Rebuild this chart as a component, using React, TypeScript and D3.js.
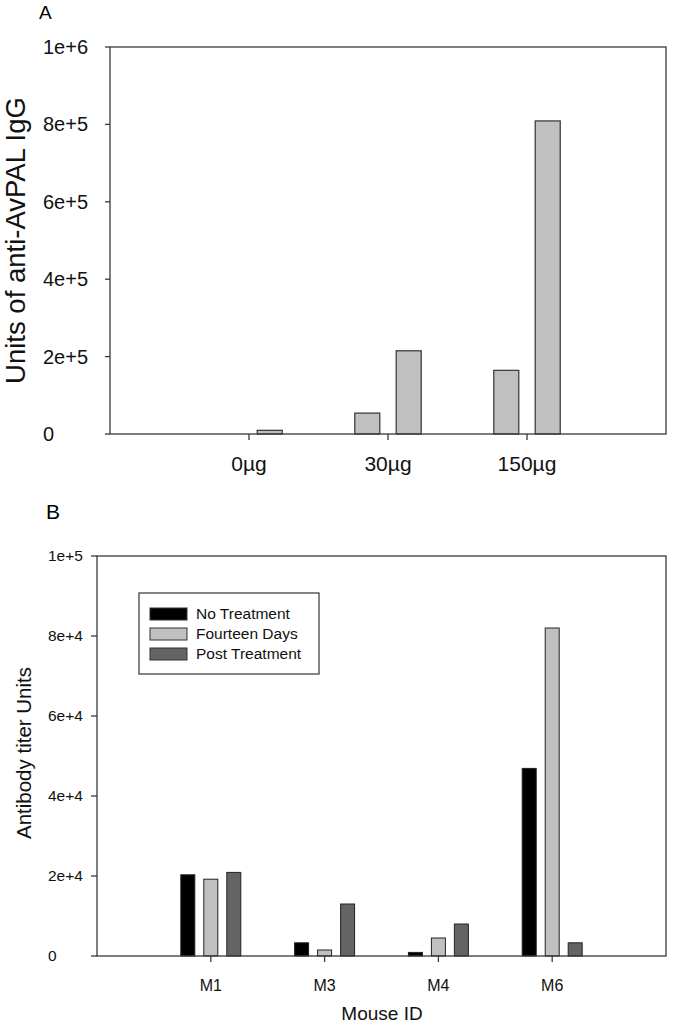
import { useRef, useEffect } from 'react';
import * as d3 from 'd3';

// Panel A: dose groups, two bars each
const doseLabels = ['0µg', '30µg', '150µg'];
const doseFirst = [0, 54000, 164500];
const doseSecond = [9500, 215000, 809000];
const doseTicks = [0, 200000, 400000, 600000, 800000, 1000000];
const doseTickLabels = ['0', '2e+5', '4e+5', '6e+5', '8e+5', '1e+6'];

// Panel B: mice, three time points
const mouseIds = ['M1', 'M3', 'M4', 'M6'];
const seriesNames = ['No Treatment', 'Fourteen Days', 'Post Treatment'];
const noTreatment = [20300, 3300, 900, 46900];
const fourteenDays = [19200, 1500, 4500, 82000];
const postTreatment = [20900, 13000, 8000, 3300];
const titerTicks = [0, 20000, 40000, 60000, 80000, 100000];
const titerTickLabels = ['0', '2e+4', '4e+4', '6e+4', '8e+4', '1e+5'];

const FONT = '"Liberation Sans", Arial, sans-serif';
const AXIS = '#3a3a3a';
const LIGHT = '#c0c0c0';
const DARK = '#646464';

export default function App() {
    const svgRef = useRef<SVGSVGElement>(null);

    useEffect(() => {
        if (!svgRef.current) return;
        const svg = d3.select(svgRef.current);
        svg.selectAll('*').remove();

        // ---------- Panel A ----------
        const xA = d3.scaleLinear().domain([0, doseLabels.length + 1]).range([110, 666]);
        const yA = d3.scaleLinear().domain([0, 1000000]).range([434, 47]);
        const gA = svg.append('g');

        svg.append('text')
            .attr('x', 39).attr('y', 19)
            .attr('font-family', FONT).attr('font-size', 19)
            .text('A');

        const barWA = 0.18;
        [doseFirst, doseSecond].forEach((vals, s) => {
            const off = s === 0 ? -0.149 : 0.149;
            gA.selectAll(`rect.a${s}`)
                .data(vals)
                .enter()
                .append('rect')
                .attr('x', (_, i) => xA(i + 1 + off - barWA / 2))
                .attr('y', d => yA(d))
                .attr('width', xA(barWA) - xA(0))
                .attr('height', d => yA(0) - yA(d))
                .attr('fill', LIGHT)
                .attr('stroke', '#333')
                .attr('stroke-width', 1.2);
        });

        gA.append('rect')
            .attr('x', xA(0)).attr('y', yA(1000000))
            .attr('width', xA(4) - xA(0)).attr('height', yA(0) - yA(1000000))
            .attr('fill', 'none').attr('stroke', AXIS).attr('stroke-width', 1.3);

        doseTicks.forEach((t, i) => {
            gA.append('line')
                .attr('x1', xA(0) - 5).attr('x2', xA(0))
                .attr('y1', yA(t)).attr('y2', yA(t))
                .attr('stroke', AXIS).attr('stroke-width', 1.3);
            gA.append('text')
                .attr('x', 43).attr('y', yA(t)).attr('dy', '0.35em')
                .attr('font-family', FONT).attr('font-size', 20)
                .attr('fill', '#111')
                .text(doseTickLabels[i]);
        });

        doseLabels.forEach((lab, i) => {
            gA.append('line')
                .attr('x1', xA(i + 1)).attr('x2', xA(i + 1))
                .attr('y1', yA(0)).attr('y2', yA(0) + 6)
                .attr('stroke', AXIS).attr('stroke-width', 1.3);
            gA.append('text')
                .attr('x', xA(i + 1)).attr('y', 471)
                .attr('text-anchor', 'middle')
                .attr('font-family', FONT).attr('font-size', 21)
                .attr('fill', '#111')
                .text(lab);
        });

        svg.append('text')
            .attr('transform', `translate(25,${(yA(0) + yA(1000000)) / 2}) rotate(-90)`)
            .attr('text-anchor', 'middle')
            .attr('font-family', FONT).attr('font-size', 27.5)
            .attr('fill', '#111')
            .text('Units of anti-AvPAL IgG');

        // ---------- Panel B ----------
        const xB = d3.scaleLinear().domain([0, mouseIds.length + 1]).range([97, 666]);
        const yB = d3.scaleLinear().domain([0, 100000]).range([956, 556]);
        const gB = svg.append('g');
        const series = [noTreatment, fourteenDays, postTreatment];
        const fills = ['#000000', LIGHT, DARK];

        svg.append('text')
            .attr('x', 46).attr('y', 519)
            .attr('font-family', FONT).attr('font-size', 21)
            .text('B');

        const barWB = 0.123;
        series.forEach((vals, s) => {
            const off = (s - 1) * 0.202;
            gB.selectAll(`rect.b${s}`)
                .data(vals)
                .enter()
                .append('rect')
                .attr('x', (_, i) => xB(i + 1 + off - barWB / 2))
                .attr('y', d => yB(d))
                .attr('width', xB(barWB) - xB(0))
                .attr('height', d => yB(0) - yB(d))
                .attr('fill', fills[s])
                .attr('stroke', '#222')
                .attr('stroke-width', 1);
        });

        gB.append('rect')
            .attr('x', xB(0)).attr('y', yB(100000))
            .attr('width', xB(5) - xB(0)).attr('height', yB(0) - yB(100000))
            .attr('fill', 'none').attr('stroke', AXIS).attr('stroke-width', 1.3);

        titerTicks.forEach((t, i) => {
            gB.append('line')
                .attr('x1', xB(0) - 6).attr('x2', xB(0))
                .attr('y1', yB(t)).attr('y2', yB(t))
                .attr('stroke', AXIS).attr('stroke-width', 1.3);
            gB.append('text')
                .attr('x', 48).attr('y', yB(t)).attr('dy', '0.35em')
                .attr('font-family', FONT).attr('font-size', 15.5)
                .attr('fill', '#111')
                .text(titerTickLabels[i]);
        });

        mouseIds.forEach((lab, i) => {
            gB.append('line')
                .attr('x1', xB(i + 1)).attr('x2', xB(i + 1))
                .attr('y1', yB(0)).attr('y2', yB(0) + 6)
                .attr('stroke', AXIS).attr('stroke-width', 1.3);
            gB.append('text')
                .attr('x', xB(i + 1)).attr('y', 991)
                .attr('text-anchor', 'middle')
                .attr('font-family', FONT).attr('font-size', 16)
                .attr('fill', '#111')
                .text(lab);
        });

        svg.append('text')
            .attr('x', 382).attr('y', 1020)
            .attr('text-anchor', 'middle')
            .attr('font-family', FONT).attr('font-size', 19)
            .attr('fill', '#111')
            .text('Mouse ID');

        svg.append('text')
            .attr('transform', `translate(31,${753}) rotate(-90)`)
            .attr('text-anchor', 'middle')
            .attr('font-family', FONT).attr('font-size', 20.5)
            .attr('fill', '#111')
            .text('Antibody titer Units');

        // Legend
        const legend = svg.append('g');
        legend.append('rect')
            .attr('x', 139).attr('y', 593)
            .attr('width', 180).attr('height', 81)
            .attr('fill', 'white').attr('stroke', '#444').attr('stroke-width', 1.3);
        seriesNames.forEach((name, i) => {
            const cy = 614 + i * 20;
            legend.append('rect')
                .attr('x', 150).attr('y', cy - 6)
                .attr('width', 37).attr('height', 12)
                .attr('fill', fills[i]).attr('stroke', '#333').attr('stroke-width', 1);
            legend.append('text')
                .attr('x', 196).attr('y', cy).attr('dy', '0.35em')
                .attr('font-family', FONT).attr('font-size', 15.5)
                .attr('fill', '#111')
                .text(name);
        });
    }, []);

    return (
        <svg
            ref={svgRef}
            width={675}
            height={1025}
            style={{ position: 'absolute', left: 0, top: 0, background: 'white' }}
        />
    );
}
